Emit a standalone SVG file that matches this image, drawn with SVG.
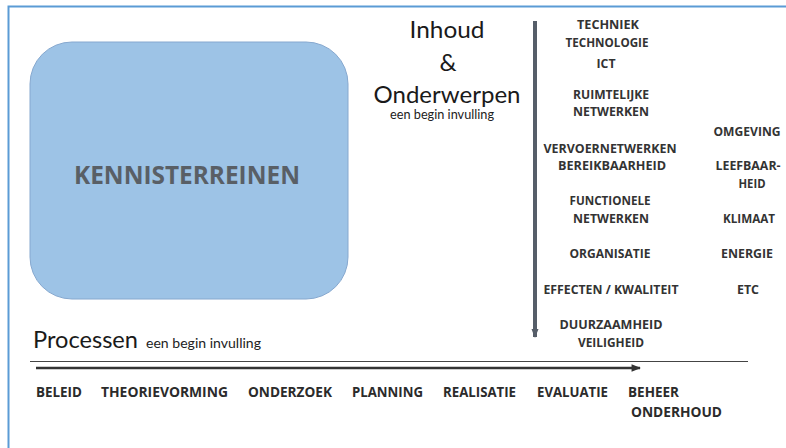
<svg xmlns="http://www.w3.org/2000/svg" width="786" height="448" viewBox="0 0 786 448">
<style>
  .title{font-family:Lato,"Open Sans","Liberation Sans",sans-serif;font-size:24px;fill:#1a1a1a;text-anchor:middle}
  .sub{font-family:Lato,"Open Sans","Liberation Sans",sans-serif;font-size:12.5px;fill:#222}
  .lab{font-family:"Open Sans",Lato,"Liberation Sans",sans-serif;font-weight:bold;font-size:13px;fill:#333;text-anchor:middle}
  .proc{font-family:"Open Sans",Lato,"Liberation Sans",sans-serif;font-weight:bold;font-size:14.5px;fill:#2b2b2b}
  .big{font-family:"Open Sans",Lato,"Liberation Sans",sans-serif;font-weight:bold;font-size:25px;fill:#595f66;text-anchor:middle}
</style>
<defs>
  <marker id="ahV" viewBox="0 0 10 8" refX="9" refY="4" markerWidth="2.2" markerHeight="1.8" orient="auto" markerUnits="strokeWidth">
    <path d="M0,0 L10,4 L0,8 Z" fill="#565e69"/>
  </marker>
  <marker id="ahH" viewBox="0 0 10 8" refX="9" refY="4" markerWidth="4" markerHeight="3" orient="auto" markerUnits="strokeWidth">
    <path d="M0,0 L10,4 L0,8 Z" fill="#333"/>
  </marker>
</defs>
<rect width="786" height="448" fill="#fff"/>
<path d="M8.5,448 V6.5 H786" fill="none" stroke="#5b9bd5" stroke-width="2"/>

<g id="kennisterreinen">
  <rect x="30" y="42" width="318" height="257" rx="42" ry="42" fill="#9dc3e6" stroke="#86a8cf" stroke-width="1"/>
  <text class="big" x="187" y="184" textLength="226" lengthAdjust="spacingAndGlyphs">KENNISTERREINEN</text>
</g>

<g id="inhoud">
  <text class="title" x="447" y="38" textLength="75" lengthAdjust="spacingAndGlyphs">Inhoud</text>
  <text class="title" x="448" y="71">&amp;</text>
  <text class="title" x="447" y="103" textLength="147" lengthAdjust="spacingAndGlyphs">Onderwerpen</text>
  <text class="sub" x="442" y="119" text-anchor="middle" textLength="104" lengthAdjust="spacingAndGlyphs">een begin invulling</text>
</g>

<g id="processen">
  <text class="title" x="33" y="348" style="text-anchor:start" textLength="105" lengthAdjust="spacingAndGlyphs">Processen</text>
  <text class="sub" x="146" y="348" style="font-size:14px" textLength="115" lengthAdjust="spacingAndGlyphs">een begin invulling</text>
</g>

<g id="connectors">
  <line x1="535" y1="21" x2="535" y2="337" stroke="#565e69" stroke-width="4" marker-end="url(#ahV)"/>
  <line x1="30" y1="361.5" x2="748" y2="361.5" stroke="#444" stroke-width="1"/>
  <line x1="36" y1="368" x2="640" y2="368" stroke="#333" stroke-width="2.5" marker-end="url(#ahH)"/>
</g>

<g id="onderwerpen">
  <text class="lab" x="608" y="29" textLength="62" lengthAdjust="spacingAndGlyphs">TECHNIEK</text>
  <text class="lab" x="607" y="46.5" textLength="83" lengthAdjust="spacingAndGlyphs">TECHNOLOGIE</text>
  <text class="lab" x="606" y="67.5" textLength="19" lengthAdjust="spacingAndGlyphs">ICT</text>
  <text class="lab" x="611" y="98.5" textLength="76" lengthAdjust="spacingAndGlyphs">RUIMTELIJKE</text>
  <text class="lab" x="611" y="116" textLength="76" lengthAdjust="spacingAndGlyphs">NETWERKEN</text>
  <text class="lab" x="610" y="152.5" textLength="133" lengthAdjust="spacingAndGlyphs">VERVOERNETWERKEN</text>
  <text class="lab" x="612" y="170" textLength="108" lengthAdjust="spacingAndGlyphs">BEREIKBAARHEID</text>
  <text class="lab" x="610" y="204.5" textLength="81" lengthAdjust="spacingAndGlyphs">FUNCTIONELE</text>
  <text class="lab" x="611" y="222.5" textLength="76" lengthAdjust="spacingAndGlyphs">NETWERKEN</text>
  <text class="lab" x="610" y="258" textLength="81" lengthAdjust="spacingAndGlyphs">ORGANISATIE</text>
  <text class="lab" x="611" y="294" textLength="135" lengthAdjust="spacingAndGlyphs">EFFECTEN / KWALITEIT</text>
  <text class="lab" x="611" y="329" textLength="103" lengthAdjust="spacingAndGlyphs">DUURZAAMHEID</text>
  <text class="lab" x="611" y="347" textLength="66" lengthAdjust="spacingAndGlyphs">VEILIGHEID</text>
</g>

<g id="thema">
  <text class="lab" x="747" y="136" textLength="67" lengthAdjust="spacingAndGlyphs">OMGEVING</text>
  <text class="lab" x="748" y="170" textLength="65" lengthAdjust="spacingAndGlyphs">LEEFBAAR-</text>
  <text class="lab" x="752" y="187.5" textLength="27" lengthAdjust="spacingAndGlyphs">HEID</text>
  <text class="lab" x="749" y="222.5" textLength="52" lengthAdjust="spacingAndGlyphs">KLIMAAT</text>
  <text class="lab" x="747" y="258" textLength="52" lengthAdjust="spacingAndGlyphs">ENERGIE</text>
  <text class="lab" x="748" y="294" textLength="22" lengthAdjust="spacingAndGlyphs">ETC</text>
</g>

<g id="processtappen">
  <text class="proc" x="36" y="397" textLength="46" lengthAdjust="spacingAndGlyphs">BELEID</text>
  <text class="proc" x="101" y="397" textLength="127" lengthAdjust="spacingAndGlyphs">THEORIEVORMING</text>
  <text class="proc" x="248" y="397" textLength="84" lengthAdjust="spacingAndGlyphs">ONDERZOEK</text>
  <text class="proc" x="352" y="397" textLength="71" lengthAdjust="spacingAndGlyphs">PLANNING</text>
  <text class="proc" x="443" y="397" textLength="73" lengthAdjust="spacingAndGlyphs">REALISATIE</text>
  <text class="proc" x="537" y="397" textLength="71" lengthAdjust="spacingAndGlyphs">EVALUATIE</text>
  <text class="proc" x="628" y="397" textLength="51" lengthAdjust="spacingAndGlyphs">BEHEER</text>
  <text class="proc" x="631" y="417" textLength="91" lengthAdjust="spacingAndGlyphs">ONDERHOUD</text>
</g>
</svg>
